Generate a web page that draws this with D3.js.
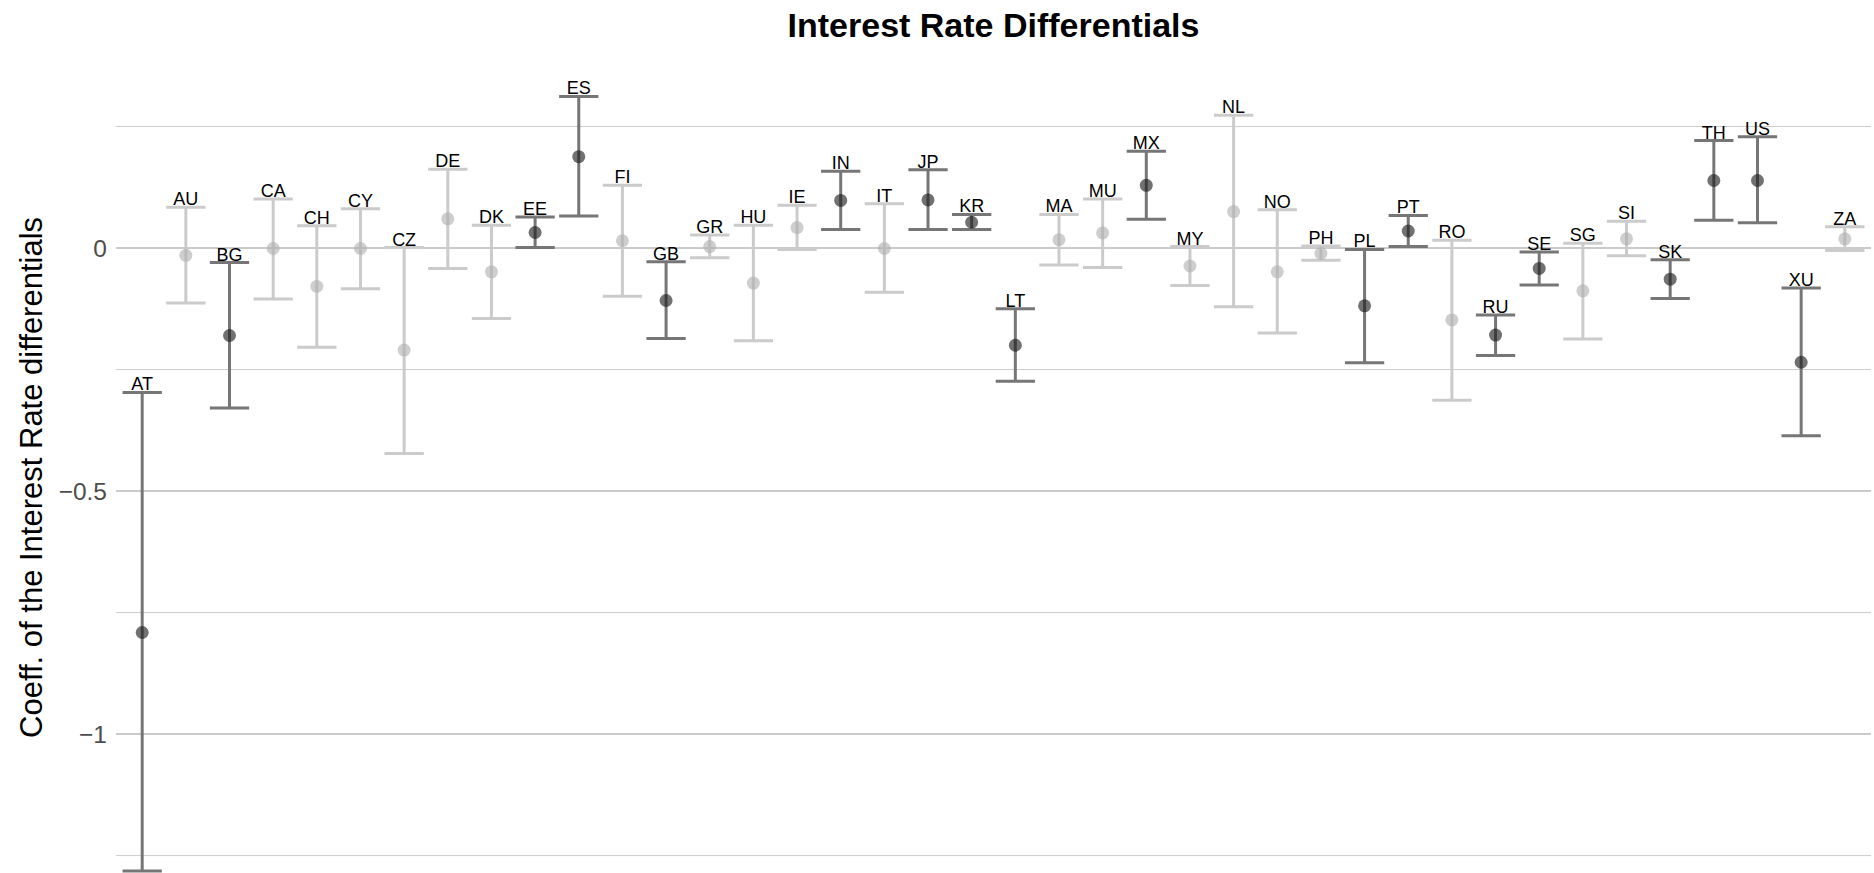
<!DOCTYPE html>
<html>
<head>
<meta charset="utf-8">
<script src="https://cdn.jsdelivr.net/npm/d3@7"></script>
<style>
  html, body { margin: 0; padding: 0; background: #fff; overflow: hidden; }
  svg { display: block; }
</style>
</head>
<body>
<svg id="chart" width="1874" height="873"></svg>
<script>
const countries = ["AT","AU","BG","CA","CH","CY","CZ","DE","DK","EE","ES","FI","GB","GR","HU","IE","IN","IT","JP","KR","LT","MA","MU","MX","MY","NL","NO","PH","PL","PT","RO","RU","SE","SG","SI","SK","TH","US","XU","ZA"];
const estimates = [-0.791,-0.015,-0.180,-0.001,-0.079,-0.001,-0.210,0.060,-0.049,0.032,0.188,0.015,-0.108,0.003,-0.072,0.042,0.098,-0.001,0.099,0.053,-0.200,0.017,0.031,0.129,-0.037,0.075,-0.049,-0.011,-0.119,0.035,-0.148,-0.179,-0.042,-0.088,0.019,-0.064,0.139,0.139,-0.235,0.019];
const lowerCI = [-1.282,-0.113,-0.329,-0.105,-0.204,-0.084,-0.423,-0.042,-0.145,0.001,0.066,-0.099,-0.186,-0.020,-0.191,-0.003,0.038,-0.091,0.038,0.038,-0.274,-0.035,-0.040,0.059,-0.077,-0.121,-0.175,-0.025,-0.236,0.003,-0.313,-0.221,-0.076,-0.187,-0.016,-0.104,0.057,0.052,-0.386,-0.005];
const upperCI = [-0.297,0.084,-0.030,0.101,0.046,0.081,0.001,0.162,0.047,0.064,0.312,0.129,-0.028,0.027,0.047,0.088,0.158,0.091,0.161,0.069,-0.125,0.069,0.101,0.199,0.003,0.273,0.079,0.004,-0.003,0.067,0.016,-0.138,-0.008,0.010,0.055,-0.024,0.221,0.229,-0.082,0.044];
const significant = [1,0,1,0,0,0,0,0,0,1,1,0,1,0,0,0,1,0,1,1,1,0,0,1,0,0,0,0,1,1,0,1,1,0,0,1,1,1,1,0];
const yTicksMajor = [0, -0.5, -1];
const yTickLabels = ["0", "\u22120.5", "\u22121"];
const yTicksMinor = [0.25, -0.25, -0.75, -1.25];

const titleText = "Interest Rate Differentials";
const yTitleText = "Coeff. of the Interest Rate differentials";

const rows = countries.map((c, i) => ({
  country: c, est: estimates[i], lo: lowerCI[i], hi: upperCI[i], sig: !!significant[i]
}));

const svg = d3.select("#chart");
const FONT = "'Liberation Sans', Arial, Helvetica, sans-serif";
const panel = { left: 116, right: 1871, top: 58, bottom: 910 };

const x = d3.scalePoint().domain(countries).range([panel.left, panel.right]).padding(0.6);
const y = d3.scaleLinear().domain([-1.362, 0.391]).range([panel.bottom, panel.top]);
const step = x.step();
const capHalf = step * 0.45;

// gridlines
const g = svg.append("g");
g.selectAll("line.minor").data(yTicksMinor).enter().append("line")
  .attr("class", "minor")
  .attr("x1", panel.left).attr("x2", panel.right)
  .attr("y1", d => y(d)).attr("y2", d => y(d))
  .attr("stroke", "#cccccc").attr("stroke-width", 1);
g.selectAll("line.major").data(yTicksMajor).enter().append("line")
  .attr("class", "major")
  .attr("x1", panel.left).attr("x2", panel.right)
  .attr("y1", d => y(d)).attr("y2", d => y(d))
  .attr("stroke", "#b8b8b8").attr("stroke-width", 1.5);

// y axis tick labels
g.selectAll("text.tick").data(yTicksMajor).enter().append("text")
  .attr("class", "tick")
  .attr("x", 107)
  .attr("y", d => y(d))
  .attr("dy", "0.36em")
  .attr("text-anchor", "end")
  .attr("font-family", FONT)
  .attr("font-size", 24.5)
  .attr("fill", "#4d4d4d")
  .text((d, i) => yTickLabels[i]);

// y axis title
svg.append("text")
  .attr("transform", `translate(41.5, ${y(-0.472)}) rotate(-90)`)
  .attr("text-anchor", "middle")
  .attr("font-family", FONT)
  .attr("font-size", 31)
  .attr("fill", "#000")
  .text(yTitleText);

// title
svg.append("text")
  .attr("x", (panel.left + panel.right) / 2)
  .attr("y", 37)
  .attr("text-anchor", "middle")
  .attr("font-family", FONT)
  .attr("font-weight", "bold")
  .attr("font-size", 34)
  .attr("fill", "#000")
  .text(titleText);

const lineColor = d => d.sig ? "#767676" : "#cbcbcb";

// error bars
const eb = svg.append("g").selectAll("g").data(rows).enter().append("g");
eb.append("line")
  .attr("x1", d => x(d.country)).attr("x2", d => x(d.country))
  .attr("y1", d => y(d.hi)).attr("y2", d => y(d.lo))
  .attr("stroke", lineColor).attr("stroke-width", 3);
eb.append("line")
  .attr("x1", d => x(d.country) - capHalf).attr("x2", d => x(d.country) + capHalf)
  .attr("y1", d => y(d.hi)).attr("y2", d => y(d.hi))
  .attr("stroke", lineColor).attr("stroke-width", 3);
eb.append("line")
  .attr("x1", d => x(d.country) - capHalf).attr("x2", d => x(d.country) + capHalf)
  .attr("y1", d => y(d.lo)).attr("y2", d => y(d.lo))
  .attr("stroke", lineColor).attr("stroke-width", 3);

// points
svg.append("g").selectAll("circle").data(rows).enter().append("circle")
  .attr("cx", d => x(d.country))
  .attr("cy", d => y(d.est))
  .attr("r", 6.5)
  .attr("fill", d => d.sig ? "#1a1a1a" : "#b0b0b0")
  .attr("fill-opacity", 0.62);

// labels
svg.append("g").selectAll("text").data(rows).enter().append("text")
  .attr("x", d => x(d.country))
  .attr("y", d => y(d.hi) - 2)
  .attr("text-anchor", "middle")
  .attr("font-family", FONT)
  .attr("font-size", 18)
  .attr("fill", "#000")
  .text(d => d.country);
</script>
</body>
</html>
